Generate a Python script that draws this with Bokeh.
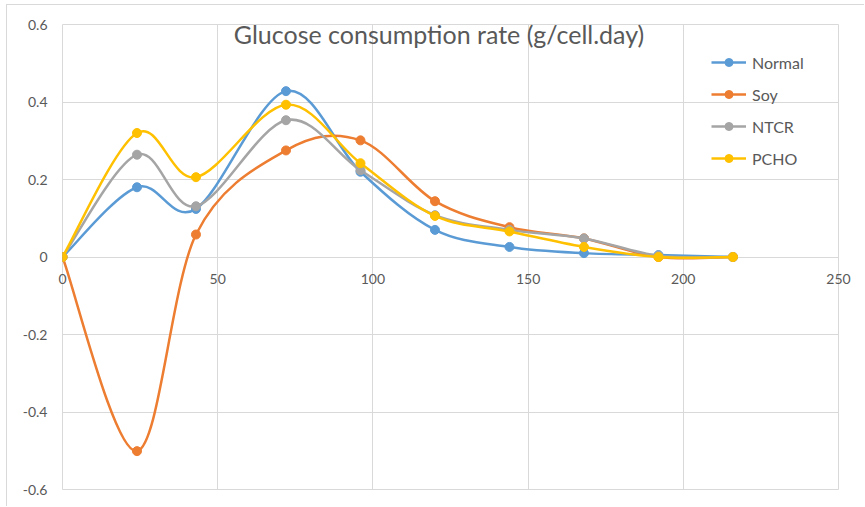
from bokeh.plotting import figure
from bokeh.models import (Legend, LegendItem, Label, CustomJSTickFormatter, FixedTicker)
from bokeh.embed import file_html
from bokeh.resources import INLINE

hours = [0, 24, 43, 72, 96, 120, 144, 168, 192, 216]
normal = [0, 0.180, 0.124, 0.428, 0.220, 0.070, 0.026, 0.010, 0.005, 0]
soy = [0, -0.501, 0.058, 0.275, 0.301, 0.144, 0.077, 0.048, 0.0, 0]
ntcr = [0, 0.264, 0.131, 0.353, 0.224, 0.108, 0.070, 0.048, 0.003, 0]
pcho = [0, 0.320, 0.206, 0.393, 0.242, 0.106, 0.066, 0.026, 0.0, 0]
series_names = ["Normal", "Soy", "NTCR", "PCHO"]
series_values = [normal, soy, ntcr, pcho]
colors = ["#5B9BD5", "#ED7D31", "#A5A5A5", "#FFC000"]
x_ticks = [0, 50, 100, 150, 200, 250]
y_ticks = [-0.6, -0.4, -0.2, 0, 0.2, 0.4, 0.6]
title_text = "Glucose consumption rate (g/cell.day)"

FONT = "Lato"
GREY = "#595959"
GRID = "#D9D9D9"

p = figure(width=858, height=502, output_backend="svg", toolbar_location=None,
           x_range=(0, 250), y_range=(-0.6, 0.6),
           min_border_left=55, min_border_right=27, min_border_top=19, min_border_bottom=18)
p.styles = {"margin-left": "6px", "margin-top": "4px",
            "border-left": "1px solid #D9D9D9", "border-top": "1px solid #D9D9D9"}
p.outline_line_color = GRID
p.background_fill_color = "white"
p.border_fill_color = "white"

p.xaxis.ticker = FixedTicker(ticks=x_ticks)
p.yaxis.ticker = FixedTicker(ticks=y_ticks)
p.xgrid.grid_line_color = GRID
p.ygrid.grid_line_color = GRID
p.xgrid.grid_line_width = 1
p.ygrid.grid_line_width = 1

for ax in (p.xaxis[0], p.yaxis[0]):
    ax.axis_line_color = None
    ax.major_tick_line_color = None
    ax.minor_tick_line_color = None
    ax.major_tick_out = 0
    ax.major_tick_in = 0
    ax.major_label_text_font = FONT
    ax.major_label_text_font_size = "14px"
    ax.major_label_text_color = GREY
p.yaxis.major_label_standoff = 15
p.yaxis.formatter = CustomJSTickFormatter(code="return String(Math.round(tick*10)/10)")
# horizontal axis crosses at y = 0: pull its labels up to the zero line
p.xaxis.major_label_standoff = -216


def bezier_segments(xs, ys):
    n = len(xs)
    segs = dict(x0=[], y0=[], x1=[], y1=[], cx0=[], cy0=[], cx1=[], cy1=[])
    for i in range(n - 1):
        xa, ya = xs[max(i - 1, 0)], ys[max(i - 1, 0)]
        xb, yb = xs[i], ys[i]
        xc, yc = xs[i + 1], ys[i + 1]
        xd, yd = xs[min(i + 2, n - 1)], ys[min(i + 2, n - 1)]
        segs["x0"].append(xb); segs["y0"].append(yb)
        segs["x1"].append(xc); segs["y1"].append(yc)
        segs["cx0"].append(xb + (xc - xa) / 6.0); segs["cy0"].append(yb + (yc - ya) / 6.0)
        segs["cx1"].append(xc - (xd - xb) / 6.0); segs["cy1"].append(yc - (yd - yb) / 6.0)
    return segs


items = []
for name, vals, col in zip(series_names, series_values, colors):
    s = bezier_segments(hours, vals)
    br = p.bezier(x0=s["x0"], y0=s["y0"], x1=s["x1"], y1=s["y1"],
                  cx0=s["cx0"], cy0=s["cy0"], cx1=s["cx1"], cy1=s["cy1"],
                  line_color=col, line_width=2.5)
    sr = p.scatter(hours, vals, size=9, fill_color=col, line_color=col)
    items.append(LegendItem(label=name, renderers=[br, sr]))

legend = Legend(items=items, location=(649, 321), padding=0, margin=0, spacing=12,
                glyph_width=35, glyph_height=20, label_height=20,
                label_text_font=FONT, label_text_font_size="16px",
                label_text_color=GREY, label_standoff=6,
                border_line_color=None, background_fill_alpha=0)
p.add_layout(legend)

title = Label(x=121.3, y=0.575, text=title_text, text_align="center", text_baseline="middle",
              text_font=FONT, text_font_size="25px", text_color=GREY)
p.add_layout(title)

open("out.html", "w").write(file_html(p, INLINE))
